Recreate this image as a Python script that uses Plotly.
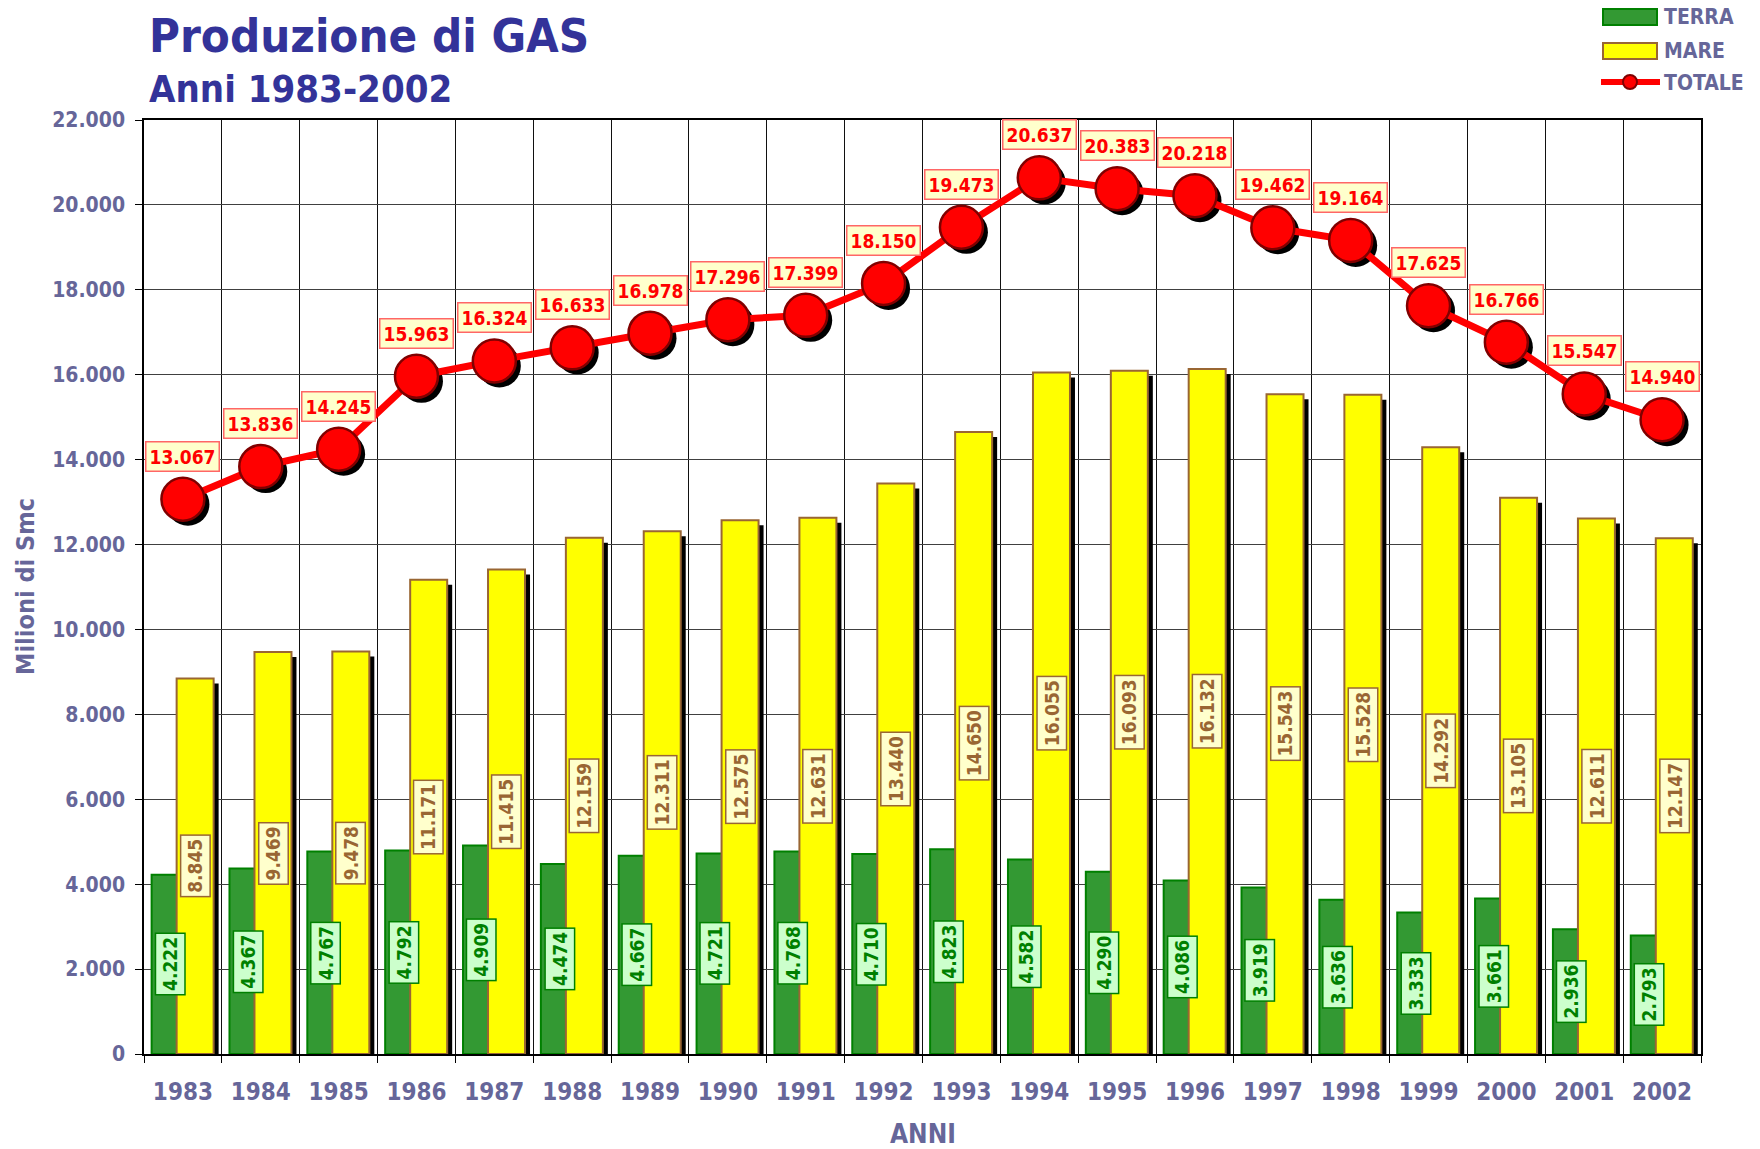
import plotly.graph_objects as go

# ---------------- data ----------------
anni = ["1983", "1984", "1985", "1986", "1987", "1988", "1989", "1990", "1991", "1992",
        "1993", "1994", "1995", "1996", "1997", "1998", "1999", "2000", "2001", "2002"]
terra = [4222, 4367, 4767, 4792, 4909, 4474, 4667, 4721, 4768, 4710,
         4823, 4582, 4290, 4086, 3919, 3636, 3333, 3661, 2936, 2793]
mare = [8845, 9469, 9478, 11171, 11415, 12159, 12311, 12575, 12631, 13440,
        14650, 16055, 16093, 16132, 15543, 15528, 14292, 13105, 12611, 12147]
totale = [13067, 13836, 14245, 15963, 16324, 16633, 16978, 17296, 17399, 18150,
          19473, 20637, 20383, 20218, 19462, 19164, 17625, 16766, 15547, 14940]
y_range = [0, 22000]
y_dtick = 2000

# ---------------- geometry / style ----------------
W, H = 1760, 1149
L, R, T, B = 144, 59, 120, 95
PW, PH = W - L - R, H - T - B
n = len(anni)
cat_px = PW / n
SH = 5  # shadow offset in px
dx = SH / cat_px
dy = SH * (y_range[1] - y_range[0]) / PH

BW_PX = 37
G_OFF_PX = -31.3
Y_OFF_PX = -6.3
bw = BW_PX / cat_px
g_off = G_OFF_PX / cat_px
y_off = Y_OFF_PX / cat_px
g_center = G_OFF_PX + BW_PX / 2
y_center = Y_OFF_PX + BW_PX / 2

FONT = "DejaVu Sans Condensed, DejaVu Sans, sans-serif"
AXC = "#666699"
TITC = "#333399"
GREEN = "#339933"
GREEN_D = "#008000"
YELLOW = "#FFFF00"
BROWN = "#996633"
RED = "#FF0000"
LBL = 19


def fmt(v):
    return f"{v:,}".replace(",", ".")


def pxx(x):
    return (x - L) / PW


def pxy(y):
    return (H - B - y) / PH


fig = go.Figure()

# green bars on base axes (drawn first)
fig.add_trace(go.Bar(
    x=anni, y=terra, name="TERRA", xaxis="x", yaxis="y",
    width=bw, offset=g_off,
    marker=dict(color=GREEN, line=dict(color=GREEN_D, width=2)),
    showlegend=False, hoverinfo="skip"))

# shadows on shifted overlay axes
fig.add_trace(go.Bar(
    x=anni, y=mare, xaxis="x2", yaxis="y2",
    width=bw, offset=y_off,
    marker=dict(color="black", line=dict(width=0)),
    showlegend=False, hoverinfo="skip"))
fig.add_trace(go.Scatter(
    x=anni, y=totale, xaxis="x2", yaxis="y2", mode="markers",
    marker=dict(size=43, color="black", line=dict(width=0)),
    showlegend=False, hoverinfo="skip"))

# main yellow bars + total line on overlay axes
fig.add_trace(go.Bar(
    x=anni, y=mare, name="MARE", xaxis="x3", yaxis="y3",
    width=bw, offset=y_off,
    marker=dict(color=YELLOW, line=dict(color=BROWN, width=2)),
    showlegend=False))
fig.add_trace(go.Scatter(
    x=anni, y=totale, name="TOTALE", xaxis="x3", yaxis="y3",
    mode="lines+markers",
    line=dict(color=RED, width=7),
    marker=dict(size=43, color=RED, line=dict(color="#800000", width=2.5)),
    showlegend=False))

ann = []
# value labels (x given as category index)
for i, (t, m, s) in enumerate(zip(terra, mare, totale)):
    ann.append(dict(x=i, y=s, xref="x", yref="y", yshift=43, text=fmt(s),
                    showarrow=False, bgcolor="#FFFFCC", bordercolor="#FF6666",
                    borderwidth=1.5, borderpad=3,
                    font=dict(family=FONT, size=LBL, color=RED, weight="bold")))
    ann.append(dict(x=i, y=t / 2, xref="x", yref="y", xshift=g_center, text=fmt(t),
                    textangle=-90, showarrow=False, bgcolor="#CCFFCC",
                    bordercolor=GREEN_D, borderwidth=1.5, borderpad=3,
                    font=dict(family=FONT, size=LBL, color=GREEN_D, weight="bold")))
    ann.append(dict(x=i, y=m / 2, xref="x", yref="y", xshift=y_center, text=fmt(m),
                    textangle=-90, showarrow=False, bgcolor="#FFFFCC",
                    bordercolor=BROWN, borderwidth=1.5, borderpad=3,
                    font=dict(family=FONT, size=LBL, color=BROWN, weight="bold")))

# titles
ann.append(dict(x=pxx(147), y=pxy(36), xref="paper", yref="paper", xanchor="left",
                yanchor="middle", showarrow=False, text="Produzione di GAS",
                font=dict(family=FONT, size=47, color=TITC, weight="bold")))
ann.append(dict(x=pxx(147), y=pxy(89), xref="paper", yref="paper", xanchor="left",
                yanchor="middle", showarrow=False, text="Anni 1983-2002",
                font=dict(family=FONT, size=38, color=TITC, weight="bold")))
# axis titles
ann.append(dict(x=pxx(25), y=pxy(587), xref="paper", yref="paper", xanchor="center",
                yanchor="middle", showarrow=False, text="Milioni di Smc", textangle=-90,
                font=dict(family=FONT, size=25, color=AXC, weight="bold")))
ann.append(dict(x=pxx(923), y=pxy(1134), xref="paper", yref="paper", xanchor="center",
                yanchor="middle", showarrow=False, text="ANNI",
                font=dict(family=FONT, size=26, color=AXC, weight="bold")))

# custom legend
shapes = []
shapes.append(dict(type="rect", xref="paper", yref="paper",
                   x0=pxx(1603), x1=pxx(1657), y0=pxy(25), y1=pxy(9),
                   fillcolor=GREEN, line=dict(color=GREEN_D, width=2)))
shapes.append(dict(type="rect", xref="paper", yref="paper",
                   x0=pxx(1603), x1=pxx(1657), y0=pxy(59), y1=pxy(43),
                   fillcolor=YELLOW, line=dict(color=BROWN, width=2)))
shapes.append(dict(type="line", xref="paper", yref="paper",
                   x0=pxx(1601), x1=pxx(1660), y0=pxy(82), y1=pxy(82),
                   line=dict(color=RED, width=6)))
shapes.append(dict(type="circle", xref="paper", yref="paper",
                   x0=pxx(1623), x1=pxx(1637), y0=pxy(89), y1=pxy(75),
                   fillcolor=RED, line=dict(color="#800000", width=2)))
for lab, yy in (("TERRA", 17), ("MARE", 51), ("TOTALE", 83)):
    ann.append(dict(x=pxx(1662), y=pxy(yy), xref="paper", yref="paper", xanchor="left",
                    yanchor="middle", showarrow=False, text=lab,
                    font=dict(family=FONT, size=21, color=AXC, weight="bold")))

xr = [-0.5, n - 0.5]
common_hidden = dict(type="category", categoryorder="array", categoryarray=anni,
                     visible=False, showgrid=False, zeroline=False)

fig.update_layout(
    width=W, height=H, autosize=False,
    margin=dict(l=L, r=R, t=T, b=B, pad=0),
    paper_bgcolor="white", plot_bgcolor="white",
    separators=",.",
    barmode="overlay",
    showlegend=False,
    font=dict(family=FONT, color=AXC),
    xaxis=dict(type="category", categoryorder="array", categoryarray=anni,
               range=xr, tickson="boundaries", ticks="outside", ticklen=7,
               tickcolor="black", tickwidth=1,
               showgrid=True, gridcolor="#111111", gridwidth=1,
               showline=True, linecolor="black", linewidth=1.5, mirror=True,
               tickfont=dict(family=FONT, size=24, color=AXC, weight="bold"),
               ticklabelstandoff=15),
    yaxis=dict(range=y_range, dtick=y_dtick, tickformat=",d",
               ticks="outside", ticklen=7, tickcolor="black", tickwidth=1,
               showgrid=True, gridcolor="#404040", gridwidth=1.3, zeroline=False,
               showline=True, linecolor="black", linewidth=1.5, mirror=True,
               tickfont=dict(family=FONT, size=21, color=AXC, weight="bold"),
               ticklabelstandoff=6),
    xaxis2=dict(overlaying="x", range=[xr[0] - dx, xr[1] - dx], **common_hidden),
    yaxis2=dict(overlaying="y", range=[y_range[0] + dy, y_range[1] + dy],
                visible=False, showgrid=False, zeroline=False),
    xaxis3=dict(overlaying="x", range=xr, **common_hidden),
    yaxis3=dict(overlaying="y", range=y_range, visible=False, showgrid=False,
                zeroline=False),
    annotations=ann,
    shapes=shapes,
)

fig.write_html("out.html", config={"displayModeBar": False},
               post_script="document.body.style.margin='0';")
